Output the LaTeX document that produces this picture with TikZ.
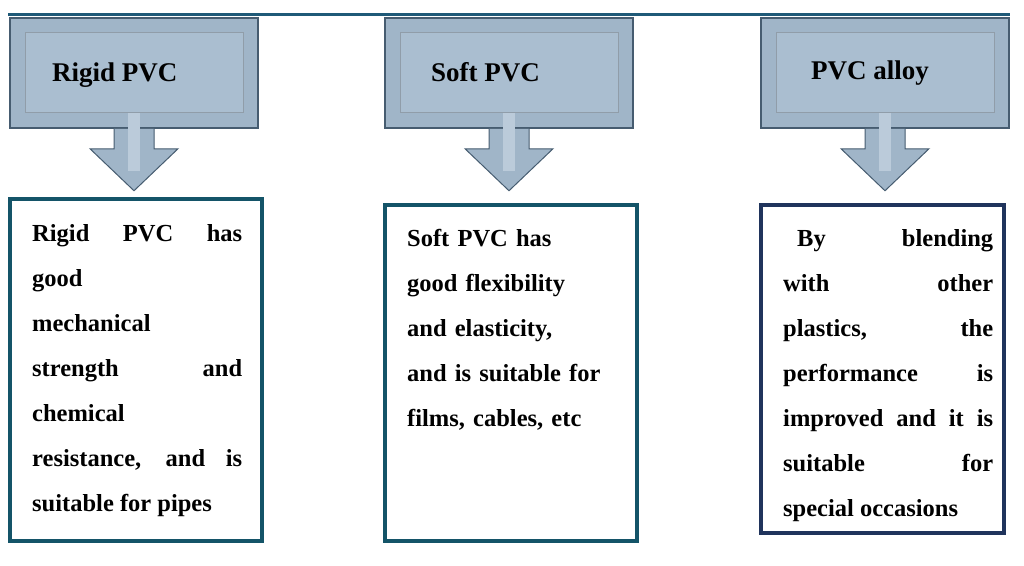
\documentclass[tikz,border=0pt]{standalone}
\usepackage{fontspec}
\setmainfont{Liberation Serif}
\usetikzlibrary{positioning}
\usetikzlibrary{calc}
\definecolor{tealline}{RGB}{31,90,120}
\definecolor{tealbox}{RGB}{20,84,104}
\definecolor{navybox}{RGB}{32,52,92}
\definecolor{steel}{RGB}{160,181,200}
\definecolor{steelin}{RGB}{170,190,208}
\definecolor{steeledge}{RGB}{70,92,112}
\tikzset{
  head/.style={draw=steeledge,fill=steel,line width=1.5pt,minimum width=248pt,minimum height=110pt},
  headin/.style={draw=steeledge!60,fill=steelin,line width=1pt,minimum width=218pt,minimum height=80pt},
  headtext/.style={font=\bfseries\fontsize{27}{30}\selectfont,anchor=west,inner sep=0pt},
  info/.style={draw=tealbox,line width=3.5pt,inner sep=0pt,anchor=north west},
  infotext/.style={font=\bfseries\fontsize{24.5}{45}\selectfont,text width=210pt,anchor=north west,inner sep=0pt},
  tip/.style={draw=steeledge,fill=steel,line width=1pt}
}
\begin{document}
\begin{tikzpicture}[x=1pt,y=-1pt]
\useasboundingbox (0,0) rectangle (1024,565);
\draw[tealline,line width=3pt] (8,14) -- (1010,14);
% callouts
\node[head] (rigid) at (134,73) {};
\node[headin] (rigidin) at (134,72) {};
\node[headtext] (rigidlabel) at (52,75) {Rigid PVC};
\node[head] (soft) at (509,73) {};
\node[headin] (softin) at (509,72) {};
\node[headtext] (softlabel) at (431,72) {Soft PVC};
\node[head] (alloy) at (885,73) {};
\node[headin] (alloyin) at (885,72) {};
\node[headtext] (alloylabel) at (811,73) {PVC alloy};
% arrows
\foreach \h in {rigid,soft,alloy}{
  \draw[tip] ($(\h.south)+(-20,0)$) -- ++(0,20) -- ++(-24,0) -- ($(\h.south)+(0,62)$)
    -- ($(\h.south)+(44,20)$) -- ++(-24,0) -- ++(0,-20);
  \fill[steelin!80!white] ($(\h.south)+(-6,-16)$) rectangle ($(\h.south)+(6,42)$);
}
% text boxes
\draw[info] (10,199) rectangle (262,541);
\node[infotext,align=justify] (rigidtext) at (32,224) {Rigid PVC has\linebreak good\\ mechanical\\ strength and\linebreak chemical\\ resistance, and is\linebreak suitable for pipes};
\draw[info] (385,205) rectangle (637,541);
\node[infotext,align=left] (softtext) at (407,229) {Soft PVC has\\ good flexibility\\ and elasticity,\\ and is suitable for\\ films, cables, etc};
\draw[info,draw=navybox] (761,205) rectangle (1004,533);
\node[infotext,align=justify] (alloytext) at (783,229) {\hspace*{14pt}By blending\linebreak with other\linebreak plastics, the\linebreak performance is\linebreak improved and it is\linebreak suitable for\linebreak special occasions};
\end{tikzpicture}
\end{document}
